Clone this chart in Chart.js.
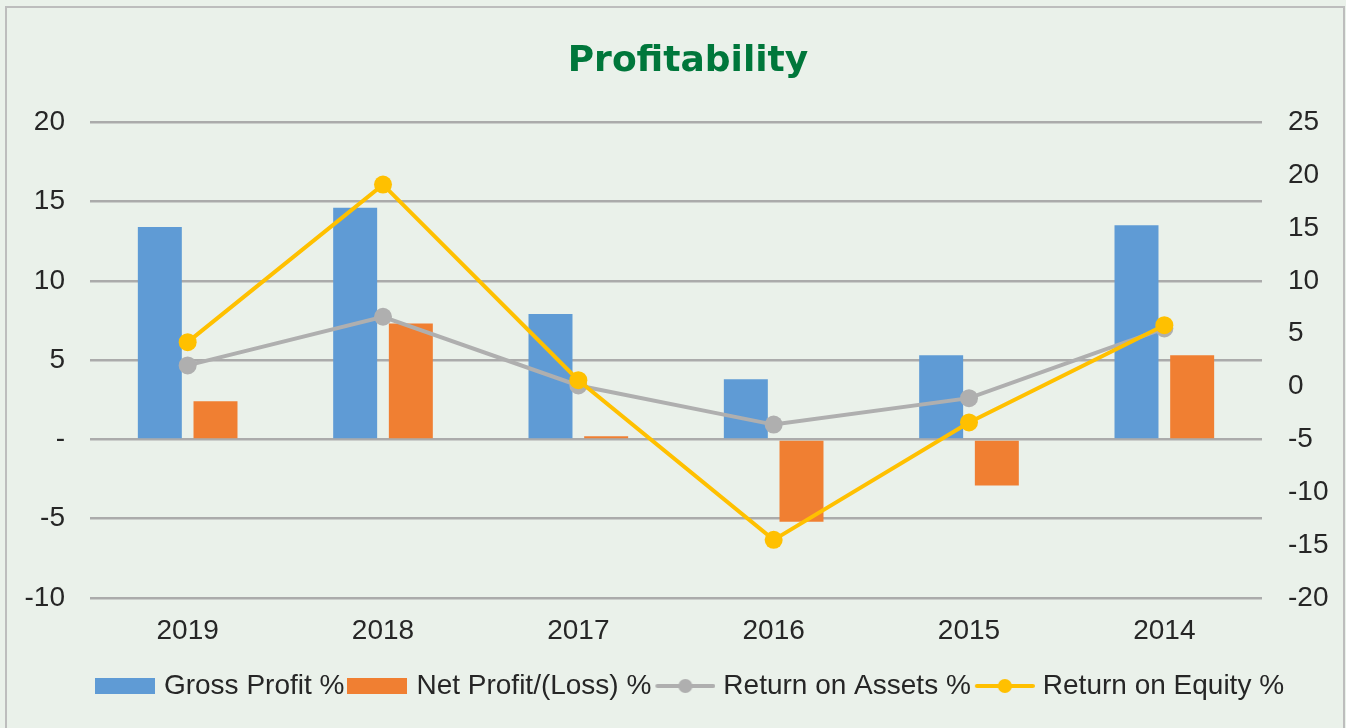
<!DOCTYPE html>
<html>
<head>
<meta charset="utf-8">
<script src="https://cdn.jsdelivr.net/npm/chart.js@4"></script>
<style>
  body { margin: 0; background: #EAF1EA; }
  #wrap { position: relative; width: 1346px; height: 728px; overflow: hidden; }
  #frame { position: absolute; left: 5px; top: 6px; width: 1340px; height: 760px;
           border: 2px solid #BDBDBD; box-sizing: border-box; pointer-events: none; }
</style>
</head>
<body>
<div id="wrap">
  <canvas id="myChart" width="1346" height="728"></canvas>
  <div id="frame"></div>
</div>
<script>
const years = ['2019', '2018', '2017', '2016', '2015', '2014']
const grossProfit = [13.4, 14.6, 7.9, 3.8, 5.3, 13.5]
const netProfit = [2.4, 7.3, 0.2, -5.2, -2.9, 5.3]
const returnOnAssets = [2.0, 6.6, 0.1, -3.6, -1.1, 5.5]
const returnOnEquity = [4.2, 19.1, 0.6, -14.5, -3.4, 5.8]

const FONT = "'Liberation Sans', Arial, sans-serif"
const TEXT = '#262626'
const GRID = '#ABABAB'

// legend symbols: plain box for bars, line with a dot for the lines
function boxSymbol(color) {
    const c = document.createElement('canvas')
    c.width = 60; c.height = 16
    const ctx = c.getContext('2d')
    ctx.fillStyle = color
    ctx.fillRect(0, 0, 60, 16)
    return c
}
function lineSymbol(color) {
    const c = document.createElement('canvas')
    c.width = 62; c.height = 18
    const ctx = c.getContext('2d')
    ctx.strokeStyle = color
    ctx.lineWidth = 4
    ctx.lineCap = 'round'
    ctx.beginPath(); ctx.moveTo(4, 9); ctx.lineTo(60, 9); ctx.stroke()
    ctx.fillStyle = color
    ctx.beginPath(); ctx.arc(32, 9, 7, 0, Math.PI * 2); ctx.fill()
    return c
}

// title and legend sit a little right of centre in the original
const shiftBlocks = {
    id: 'shiftBlocks',
    afterLayout(chart) {
        chart.legend.left += 19
        chart.legend.right += 19
        chart.titleBlock.left += 15
        chart.titleBlock.right += 15
    }
}

new Chart('myChart', {
    type: 'bar',
    plugins: [shiftBlocks],
    data: {
        labels: years,
        datasets: [{
            label: 'Gross Profit %',
            data: grossProfit,
            backgroundColor: '#5F9BD5',
            yAxisID: 'y',
            order: 3,
            legendSymbol: boxSymbol('#5F9BD5'),
        },
        {
            label: 'Net Profit/(Loss) %',
            data: netProfit,
            backgroundColor: '#F07F32',
            yAxisID: 'y',
            order: 3,
            legendSymbol: boxSymbol('#F07F32'),
        },
        {
            type: 'line',
            label: 'Return on Assets %',
            data: returnOnAssets,
            borderColor: '#AFAFAF',
            backgroundColor: '#AFAFAF',
            borderWidth: 4,
            pointRadius: 9,
            pointBorderWidth: 0,
            yAxisID: 'y1',
            order: 1,
            legendSymbol: lineSymbol('#AFAFAF'),
        },
        {
            type: 'line',
            label: 'Return on Equity %',
            data: returnOnEquity,
            borderColor: '#FFC000',
            backgroundColor: '#FFC000',
            borderWidth: 4,
            pointRadius: 9,
            pointBorderWidth: 0,
            yAxisID: 'y1',
            order: 0,
            legendSymbol: lineSymbol('#FFC000'),
        },
        ],
    },
    options: {
        responsive: false,
        maintainAspectRatio: false,
        animation: false,
        layout: { padding: { left: 0, right: 0, top: 0, bottom: 18 } },
        datasets: {
            bar: { categoryPercentage: 0.57, barPercentage: 0.79 }
        },
        plugins: {
            title: {
                display: true,
                text: 'Profitability',
                color: '#00773B',
                font: { family: "'DejaVu Sans', sans-serif", size: 36, weight: 'bold' },
                padding: { top: 40, bottom: 39 },
            },
            legend: {
                position: 'bottom',
                labels: {
                    usePointStyle: true,
                    pointStyleWidth: 50,
                    padding: 8,
                    color: TEXT,
                    font: { family: FONT, size: 28 },
                    generateLabels: (chart) => chart.data.datasets.map((ds, i) => ({
                        text: ds.label,
                        pointStyle: ds.legendSymbol,
                        fontColor: TEXT,
                        hidden: false,
                        datasetIndex: i,
                        lineWidth: 0,
                    })),
                },
            },
            tooltip: { enabled: false },
        },
        scales: {
            x: {
                grid: { display: false },
                border: { display: false },
                ticks: { color: TEXT, font: { family: FONT, size: 28 }, padding: 8 },
                afterFit: (s) => { s.height = 66 },
            },
            y: {
                position: 'left',
                min: -10,
                max: 20,
                grid: { color: GRID, lineWidth: 2.5, drawTicks: false },
                border: { display: false },
                ticks: {
                    stepSize: 5,
                    padding: 25,
                    color: TEXT,
                    font: { family: FONT, size: 28 },
                    callback: (v) => v === 0 ? '-' : v,
                },
                afterFit: (s) => { s.width = 90 },
            },
            y1: {
                position: 'right',
                min: -20,
                max: 25,
                grid: { display: false, drawTicks: false },
                border: { display: false },
                ticks: {
                    stepSize: 5,
                    padding: 26,
                    color: TEXT,
                    font: { family: FONT, size: 28 },
                },
                afterFit: (s) => { s.width = 84 },
            },
        }
    }
});
</script>
</body>
</html>
